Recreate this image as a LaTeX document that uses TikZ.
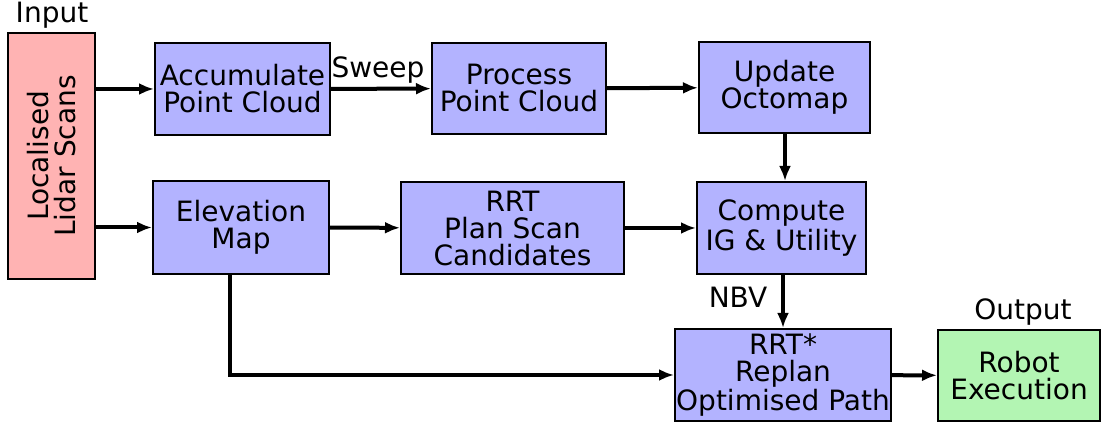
\documentclass[tikz,border=0pt]{standalone}
\usepackage{fontspec}
\setmainfont{DejaVu Sans}
\usetikzlibrary{arrows.meta}
\definecolor{blockblue}{RGB}{179,179,255}
\definecolor{inputpink}{RGB}{255,179,179}
\definecolor{outputgreen}{RGB}{179,245,179}

\begin{document}
\begin{tikzpicture}[
  x=0.5pt,
  y=-0.5pt,
  every node/.style={font=\fontsize{14}{13.5}\selectfont},
  blk/.style={draw=black, line width=1pt, fill=blockblue, align=center,
    inner sep=0pt},
  flow/.style={line width=2pt, -{Latex[length=7.5pt,width=6pt]}}
]
  \useasboundingbox (0,0) rectangle (1104,426);

  % input and output
  \node[blk, fill=inputpink, minimum width=43.5pt, minimum height=123pt]
    (lidar) at (51.5,156) {};
  \node[rotate=90, align=center] at (lidar.center) {Localised\\Lidar Scans};
  \node (inlabel) at (52,15) {Input};

  \node[blk, fill=outputgreen, minimum width=81pt, minimum height=45.5pt]
    (robot) at (1019,375.5) {Robot\\Execution};
  \node (outlabel) at (1023,312) {Output};

  % top row
  \node[blk, minimum width=87.5pt, minimum height=46pt]
    (accum) at (242.5,89) {Accumulate\\Point Cloud};
  \node[blk, minimum width=87pt, minimum height=45.5pt]
    (proc) at (519,88.5) {Process\\Point Cloud};
  \node[blk, minimum width=85.5pt, minimum height=45.5pt]
    (octo) at (784.5,87.5) {Update\\Octomap};

  % middle row
  \node[blk, minimum width=88pt, minimum height=46.5pt]
    (elev) at (241,227.5) {Elevation\\Map};
  \node[blk, minimum width=111.5pt, minimum height=46pt]
    (rrt) at (512.5,228) {RRT\\Plan Scan\\Candidates};
  \node[blk, minimum width=84.5pt, minimum height=46pt]
    (comp) at (781.5,228) {Compute\\IG \& Utility};

  \node[blk, minimum width=108pt, minimum height=46pt]
    (replan) at (783,375) {RRT*\\Replan\\Optimised Path};

  % connectors
  \draw[flow] (lidar.east |- accum.west) -- (accum.west);
  \draw[flow] (lidar.east |- elev.west) -- (elev.west);
  \draw[flow] (accum) -- (proc);
  \node (sweep) at (378,70) {Sweep};
  \draw[flow] (proc) -- (octo);
  \draw[flow] (octo.south -| 785,0) -- (comp.north -| 785,0);
  \draw[flow] (elev) -- (rrt);
  \draw[flow] (rrt) -- (comp);
  \draw[flow] (comp.south -| 783,0) -- (replan.north -| 783,0);
  \node (nbv) at (738,297) {NBV};
  \draw[flow] (elev.south -| 230,0) |- (replan.west);
  \draw[flow] (replan) -- (robot);
\end{tikzpicture}
\end{document}
